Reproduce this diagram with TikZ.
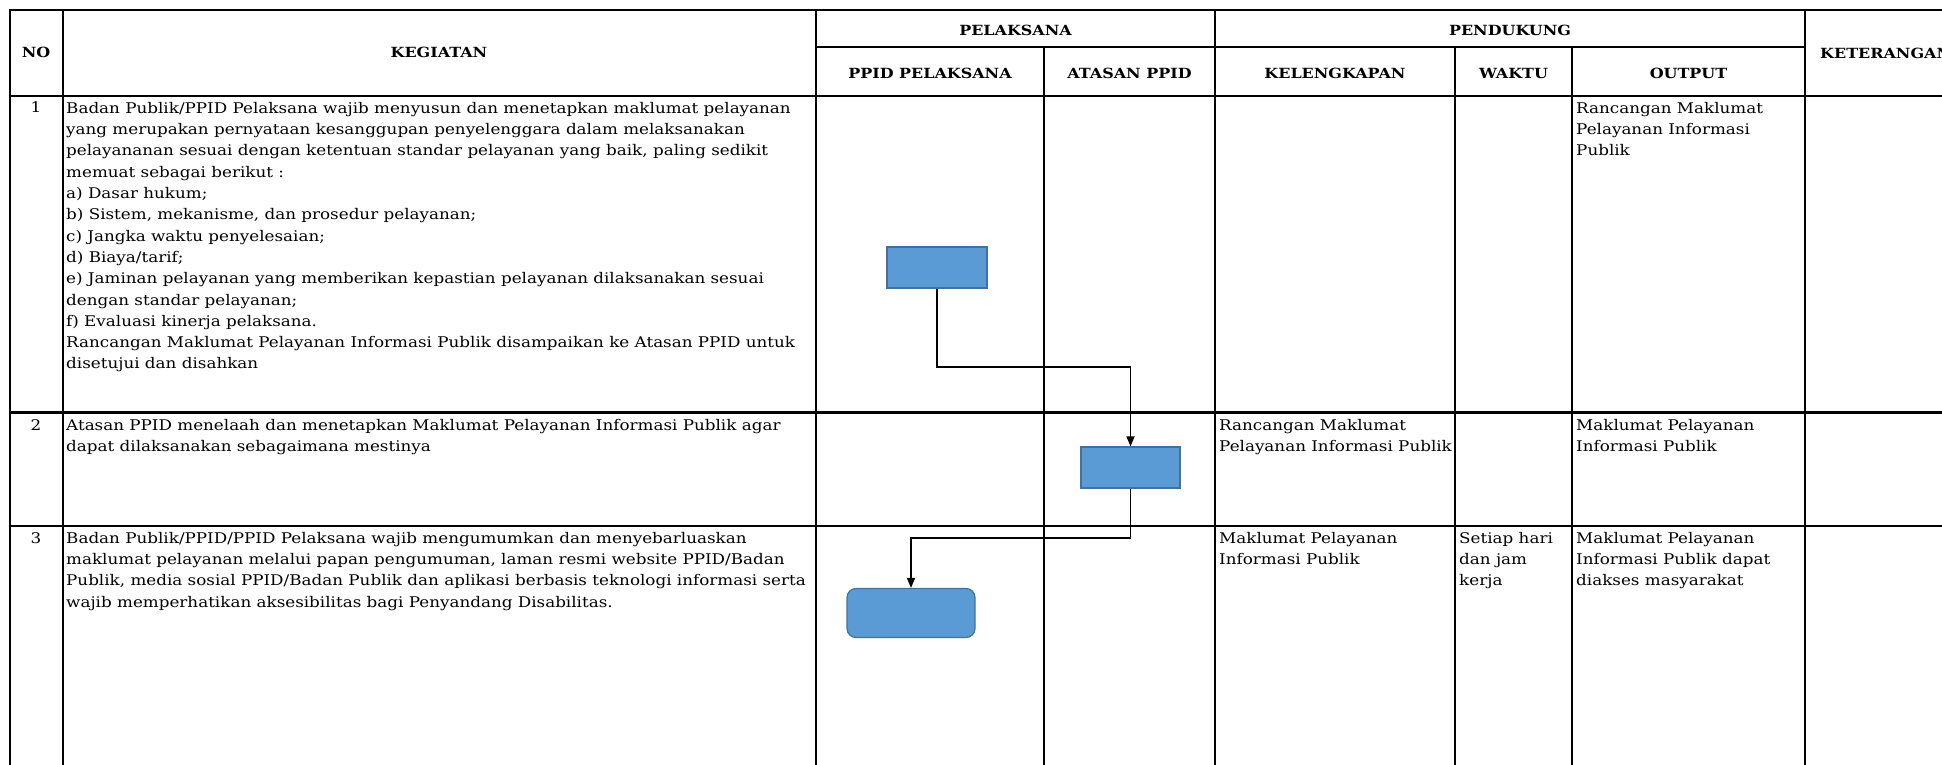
\documentclass[tikz,border=0pt]{standalone}
\usepackage{fontspec}
\setmainfont{DejaVu Serif}[FakeStretch=1.14]
\usetikzlibrary{positioning,arrows.meta}
\definecolor{boxfill}{HTML}{5B9BD5}
\definecolor{boxline}{HTML}{41719C}
\tikzset{x=1pt,y=-1pt, % one unit is one pixel of the sheet
  row/.style={line width=2.8pt},
  col/.style={line width=2pt},
  head/.style={font=\fontsize{14}{18}\selectfont\bfseries, inner sep=0pt},
  cell/.style={font=\fontsize{14.7}{21.3}\selectfont, align=left, anchor=north west, inner sep=0pt},
  act/.style={draw=boxline, line width=1.2pt, fill=boxfill,
    minimum width=100pt, minimum height=41pt, inner sep=0pt},
  flow/.style={draw, line width=1.6pt, -{Triangle[length=10pt,width=8pt]}}}

\begin{document}
\begin{tikzpicture}
  \useasboundingbox (0,0) rectangle (1942,765);
  \clip (0,0) rectangle (1942,765);
  % table lines
  \draw[row] (8.5,10) -- (1942,10);
  \draw[col] (816,47) -- (1805,47);
  \draw[row] (8.5,96) -- (1942,96);
  \draw[row] (8.5,412.5) -- (1942,412.5);
  \draw[row] (8.5,526) -- (1942,526);
  \foreach \x in {9.5,62.5,816,1215,1805}
    \draw[col] (\x,10) -- (\x,765);
  \foreach \x in {1044,1455,1572}
    \draw[col] (\x,47) -- (\x,765);

  % header
  \node[head] (no) at (36,52) {NO};
  \node[head] (keg) at (439,52) {KEGIATAN};
  \node[head] (pel) at (1015.5,30) {PELAKSANA};
  \node[head] (pend) at (1510,30) {PENDUKUNG};
  \node[head] (ppid) at (930,73) {PPID PELAKSANA};
  \node[head] (atasan) at (1129.5,73) {ATASAN PPID};
  \node[head] (lengkap) at (1335,73) {KELENGKAPAN};
  \node[head] (waktu) at (1513.5,73) {WAKTU};
  \node[head] (output) at (1688.5,73) {OUTPUT};
  \node[head, anchor=west] (ket) at (1820,53) {KETERANGAN};

  % row 1
  \node[cell, anchor=base] (n1) at (36,113) {1};
  \node[cell] (k1) at (66,102) {Badan Publik/PPID Pelaksana wajib menyusun dan menetapkan maklumat pelayanan\\
    yang merupakan pernyataan kesanggupan penyelenggara dalam melaksanakan\\
    pelayananan sesuai dengan ketentuan standar pelayanan yang baik, paling sedikit\\
    memuat sebagai berikut :\\
    a) Dasar hukum;\\
    b) Sistem, mekanisme, dan prosedur pelayanan;\\
    c) Jangka waktu penyelesaian;\\
    d) Biaya/tarif;\\
    e) Jaminan pelayanan yang memberikan kepastian pelayanan dilaksanakan sesuai\\
    dengan standar pelayanan;\\
    f) Evaluasi kinerja pelaksana.\\
    Rancangan Maklumat Pelayanan Informasi Publik disampaikan ke Atasan PPID untuk\\
    disetujui dan disahkan};
  \node[cell] (o1) at (1576,102) {Rancangan Maklumat\\Pelayanan Informasi\\Publik};

  % row 2
  \node[cell, anchor=base] (n2) at (36,430) {2};
  \node[cell] (k2) at (66,419) {Atasan PPID menelaah dan menetapkan Maklumat Pelayanan Informasi Publik agar\\
    dapat dilaksanakan sebagaimana mestinya};
  \node[cell] (l2) at (1219,419) {Rancangan Maklumat\\Pelayanan Informasi Publik};
  \node[cell] (o2) at (1576,419) {Maklumat Pelayanan\\Informasi Publik};

  % row 3
  \node[cell, anchor=base] (n3) at (36,543) {3};
  \node[cell] (k3) at (66,532) {Badan Publik/PPID/PPID Pelaksana wajib mengumumkan dan menyebarluaskan\\
    maklumat pelayanan melalui papan pengumuman, laman resmi website PPID/Badan\\
    Publik, media sosial PPID/Badan Publik dan aplikasi berbasis teknologi informasi serta\\
    wajib memperhatikan aksesibilitas bagi Penyandang Disabilitas.};
  \node[cell] (l3) at (1219,532) {Maklumat Pelayanan\\Informasi Publik};
  \node[cell] (w3) at (1459,532) {Setiap hari\\dan jam\\kerja};
  \node[cell] (o3) at (1576,532) {Maklumat Pelayanan\\Informasi Publik dapat\\diakses masyarakat};

  % flow
  \node[act] (s1) at (937,267.5) {};
  \node[act, minimum width=99pt] (s2) at (1130.5,467.5) {};
  \node[act, rounded corners=9pt, minimum width=128pt, minimum height=49pt] (s3) at (911,613) {};
  \coordinate (b1) at (0,367);
  \coordinate (b2) at (0,538);
  \draw[flow] (s1.south) -- (s1.south |- b1) -| (s2.north);
  \draw[flow] (s2.south) -- (s2.south |- b2) -| (s3.north);
\end{tikzpicture}
\end{document}
